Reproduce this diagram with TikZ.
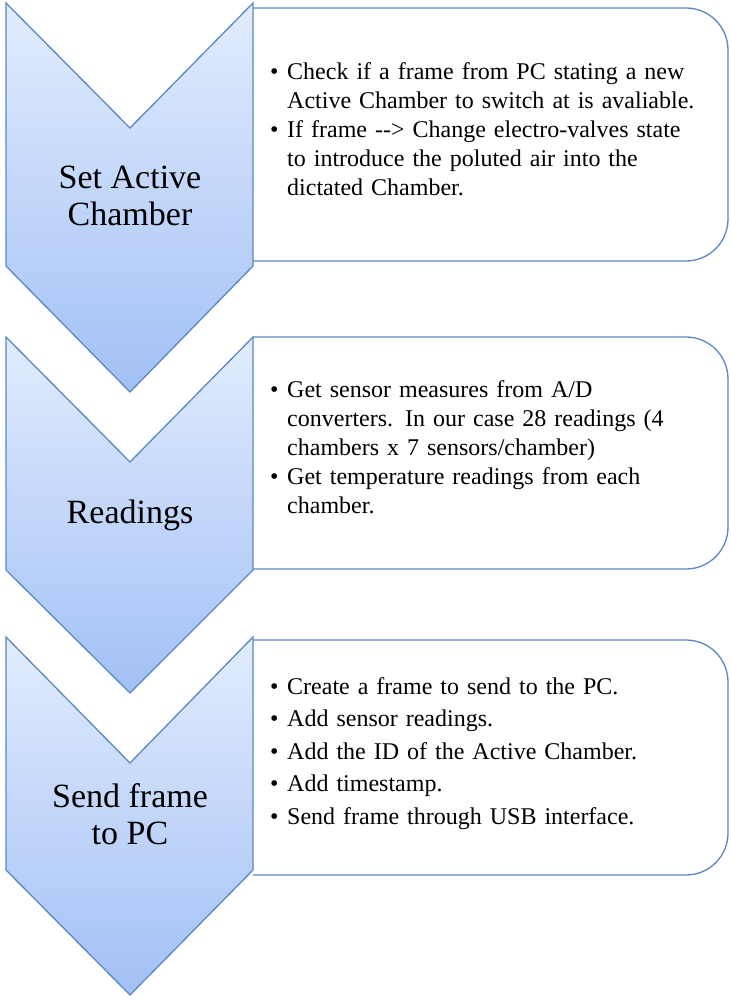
\documentclass[tikz,border=0pt]{standalone}
\usepackage{fontspec}
\setmainfont{Liberation Serif}
\definecolor{edge}{HTML}{5A87C5}
\definecolor{topc}{HTML}{E2ECFD}
\definecolor{botc}{HTML}{A2C0F5}
\newcommand{\bitem}[1]{\hangindent=17pt\hangafter=1\noindent\makebox[17pt][l]{\textbullet}#1\par}
\newcommand{\nohy}{\hyphenpenalty=10000 \exhyphenpenalty=10000 }
\begin{document}
\begin{tikzpicture}[x=1pt,y=-1pt,
  chev/.style={draw=edge,line width=1.3pt,top color=topc,bottom color=botc,line join=miter},
  infobox/.style={draw=edge,line width=1.3pt,fill=white,rounded corners=42pt},
  lbl/.style={font=\fontsize{34}{37}\selectfont,align=center},
  txt/.style={anchor=north west,inner sep=0pt,text width=430pt,font=\fontsize{24}{29}\selectfont}]
\useasboundingbox (0,0) rectangle (730,1000);
% boxes
\draw[infobox] (253,8) -- (728,8) -- (728,261) -- (253,261);
\draw[infobox] (253,337) -- (728,337) -- (728,569) -- (253,569);
\draw[infobox] (253,640) -- (728,640) -- (728,875) -- (253,875);
% chevrons
\path[chev] (6,3) -- (130,128) -- (253,3) -- (253,266) -- (130,392) -- (6,266) -- cycle;
\path[chev] (6,337) -- (130,462) -- (253,337) -- (253,570) -- (130,693) -- (6,570) -- cycle;
\path[chev] (6,637) -- (130,763) -- (253,637) -- (253,870) -- (130,995) -- (6,870) -- cycle;
% labels
\node[lbl] (l1) at (130,196) {Set Active\\Chamber};
\node[lbl] (l2) at (130,515) {Readings};
\node[lbl] (l3) at (130,814) {Send frame\\to PC};
% texts
\node[txt] (t1) at (270,62) {\nohy\bitem{Check if a frame from PC stating a new Active Chamber to switch at is avaliable.}\bitem{If frame -{}-{}> Change electro-valves state to introduce the poluted air into the dictated Chamber.}};
\node[txt] (t2) at (270,380) {\nohy\bitem{Get sensor measures from A/D converters. In our case 28 readings (4 chambers x 7 sensors/chamber)}\bitem{Get temperature readings from each chamber.}};
\node[txt,font=\fontsize{24}{32.5}\selectfont] (t3) at (270,677) {\raggedright\bitem{Create a frame to send to the PC.}\bitem{Add sensor readings.}\bitem{Add the ID of the Active Chamber.}\bitem{Add timestamp.}\bitem{Send frame through USB interface.}};
\end{tikzpicture}
\end{document}
